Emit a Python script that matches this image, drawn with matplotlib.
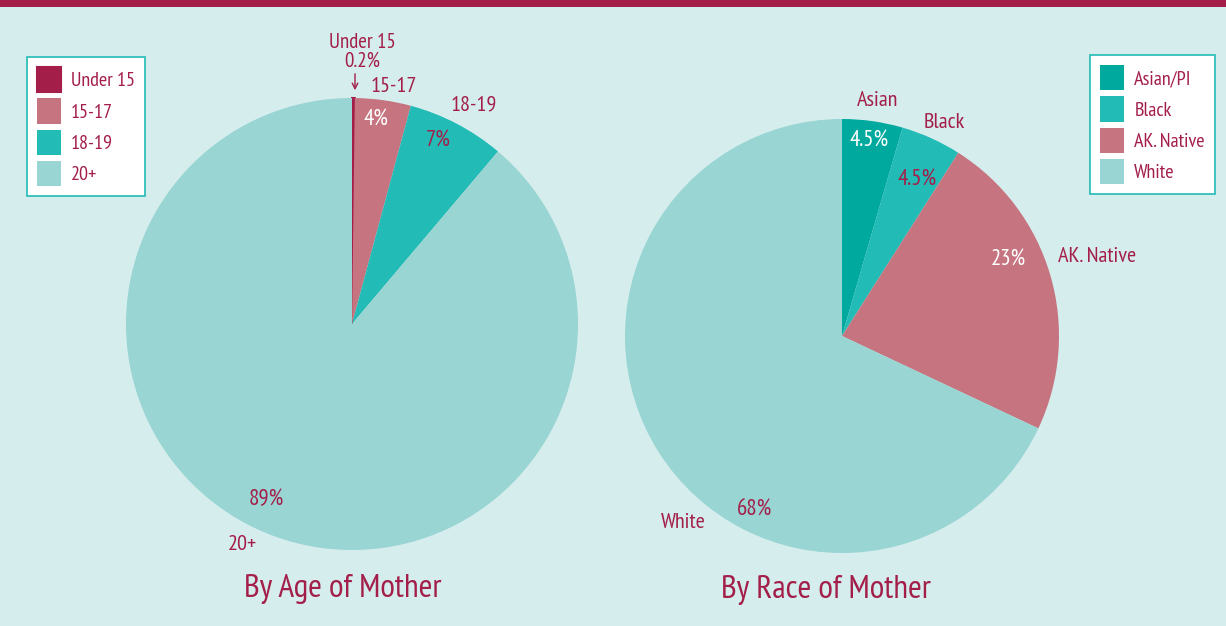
import matplotlib.pyplot as plt
from matplotlib.patches import Rectangle

# data
age_labels = ['Under 15', '15-17', '18-19', '20+']
age_values = [0.2, 4, 7, 89]
age_pct = ['0.2%', '4%', '7%', '89%']
race_labels = ['Asian/PI', 'Black', 'AK. Native', 'White']
race_values = [4.5, 4.5, 23, 68]
race_pct = ['4.5%', '4.5%', '23%', '68%']

MAROON = '#A31F4A'
BG = '#D6EDED'
age_colors = ['#A31F4A', '#C67480', '#22BBB5', '#98D5D3']
race_colors = ['#00A99D', '#22BBB5', '#C67480', '#98D5D3']

plt.rcParams['font.family'] = ['PT Sans Narrow', 'DejaVu Sans']

W, H = 1226, 626
fig = plt.figure(figsize=(W / 100, H / 100), dpi=100, facecolor=BG)
ax = fig.add_axes([0, 0, 1, 1])


def Y(py):
    return H - py


wa, _ = ax.pie(age_values, colors=age_colors, startangle=90, counterclock=False,
               center=(352, Y(324)), radius=226, normalize=True,
               wedgeprops=dict(linewidth=0))
wa[0].set_edgecolor(age_colors[0])
wa[0].set_linewidth(1.5)
wr, _ = ax.pie(race_values, colors=race_colors, startangle=90, counterclock=False,
               center=(842, Y(336)), radius=217,
               wedgeprops=dict(linewidth=0))

ax.set_xlim(0, W)
ax.set_ylim(0, H)
ax.set_aspect('equal')
ax.axis('off')

# top band
ax.add_patch(Rectangle((0, Y(7)), W, 8, color=MAROON, lw=0))

fs = 16
pfs = 16.5


def lab(x, y, s, c=MAROON, size=fs):
    ax.text(x, Y(y), s, color=c, fontsize=size, ha='center', va='center')


# age labels
lab(362, 42, 'Under 15', size=15)
lab(362, 61, age_pct[0], size=15)
ax.annotate('', xy=(355, Y(93)), xytext=(355, Y(71)),
            arrowprops=dict(arrowstyle='->', color=MAROON, lw=1))
lab(394, 86, age_labels[1])
lab(474, 105, age_labels[2])
lab(376, 119, age_pct[1], 'white', pfs)
lab(438, 140, age_pct[2], size=pfs)
lab(266, 500, age_pct[3], size=pfs)
lab(242, 545, age_labels[3])

# race labels
lab(878, 101, 'Asian')
lab(944, 122, race_labels[1])
lab(869, 140, race_pct[0], 'white', pfs)
lab(917, 179, race_pct[1], size=pfs)
lab(1008, 259, race_pct[2], 'white', pfs)
lab(1097, 257, race_labels[2])
lab(683, 522, race_labels[3])
lab(755, 510, race_pct[3], size=pfs)

# titles
lab(343, 589, 'By Age of Mother', size=24)
lab(826, 590, 'By Race of Mother', size=24)

leg_kw = dict(fontsize=14.5, labelcolor=MAROON, frameon=True, fancybox=False,
              edgecolor='#22BBB5', facecolor='white', framealpha=1,
              handlelength=1.2, handleheight=1.55, labelspacing=0.3,
              handletextpad=0.5, borderpad=0.5, borderaxespad=0)
leg1 = ax.legend(wa, age_labels, loc='upper left',
                 bbox_to_anchor=(27 / W, 1 - 57 / H), **leg_kw)
leg1.get_frame().set_linewidth(1.2)
ax.add_artist(leg1)
leg2 = ax.legend(wr, race_labels, loc='upper right',
                 bbox_to_anchor=(1215 / W, 1 - 55 / H), **leg_kw)
leg2.get_frame().set_linewidth(1.2)

fig.savefig('out.png', dpi=100, facecolor=BG)
